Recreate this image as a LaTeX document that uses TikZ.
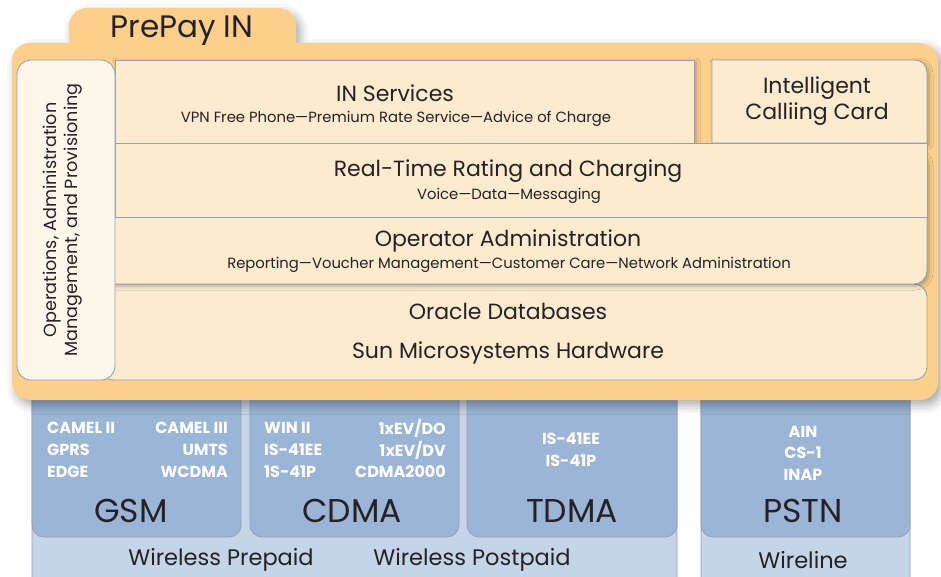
\documentclass[tikz,border=0pt]{standalone}
\usepackage{fontspec}
\setmainfont{Poppins}
\usetikzlibrary{shadows.blur}
\definecolor{ink}{RGB}{38,34,35}
\definecolor{frameorange}{RGB}{252,208,138}
\definecolor{layerfill}{RGB}{253,235,207}
\definecolor{oampfill}{RGB}{253,246,235}
\definecolor{edgegray}{RGB}{150,160,172}
\definecolor{netblue}{RGB}{155,181,214}
\definecolor{baseblue}{RGB}{196,212,233}
\tikzset{
  layer/.style={draw=edgegray, line width=0.9pt, fill=layerfill},
  softshadow/.style={blur shadow={shadow xshift=2pt, shadow yshift=-2pt, shadow blur radius=4pt, shadow opacity=30}},
  netbox/.style={draw=edgegray, line width=0.8pt, fill=netblue, rounded corners=12},
  basebox/.style={draw=edgegray, line width=0.8pt, fill=baseblue, rounded corners=12},
  tabtitle/.style={text=ink, font=\fontsize{31}{34}\selectfont},
  title/.style={text=ink, font=\fontsize{22}{26}\selectfont, align=center},
  detail/.style={text=ink, font=\fontsize{14.8}{17}\selectfont},
  sidetext/.style={text=ink, font=\fontsize{17.6}{21}\selectfont, align=center, rotate=90},
  proto/.style={text=white, font=\bfseries\fontsize{16}{18}\selectfont, inner sep=0pt},
  netname/.style={text=ink, font=\fontsize{33}{36}\selectfont},
  market/.style={text=ink, font=\fontsize{22.5}{25}\selectfont},
}

\begin{document}
\begin{tikzpicture}[x=1pt, y=-1pt]
  \useasboundingbox (0,0) rectangle (941,576);

  % access networks underneath
  \path[basebox] (32,380) rectangle (677,590);
  \path[basebox] (701,380) rectangle (910,590);
  \path[netbox] (32,380) rectangle (241,537);
  \path[netbox] (250,380) rectangle (459,537);
  \path[netbox] (467,380) rectangle (677,537);
  \path[netbox] (701,380) rectangle (910,537);

  % frame with tab
  \path[fill=frameorange, blur shadow={shadow xshift=4pt, shadow yshift=-5pt, shadow blur radius=9pt, shadow opacity=35}]
    (12,61) arc[start angle=180, end angle=270, radius=18] -- (69,43)
    -- (69,26) arc[start angle=180, end angle=270, radius=18] -- (278,8)
    arc[start angle=270, end angle=360, radius=18] -- (296,43)
    -- (920,43) arc[start angle=270, end angle=360, radius=18] -- (938,382)
    arc[start angle=0, end angle=90, radius=18] -- (30,400)
    arc[start angle=90, end angle=180, radius=18] -- cycle;

  % platform layers
  \path[layer, rounded corners=13] (100,284) rectangle (927,380);
  \path[layer, rounded corners=13, softshadow] (100,150) rectangle (927,284);
  \path[layer, softshadow] (115,60) rectangle (694,143);
  \path[layer, softshadow] (712,143) -- (712,60) -- (915,60)
    arc[start angle=270, end angle=360, radius=12] -- (927,143) -- cycle;
  \path[layer] (115,143) rectangle (927,217);
  \path[layer, fill=oampfill, rounded corners=14] (17,60) rectangle (115,380);

  % labels
  \node[tabtitle] (prepay) at (182,31) {PrePay IN};
  \node[title] (insvc) at (395,93) {IN Services};
  \node[detail] (insvcsub) at (396,119) {VPN Free Phone—Premium Rate Service—Advice of Charge};
  \node[title] (card) at (817,101) {Intelligent\\Calliing Card};
  \node[title] (rating) at (508,171) {Real-Time Rating and Charging};
  \node[detail] (ratingsub) at (509,196) {Voice—Data—Messaging};
  \node[title] (opadmin) at (508,241) {Operator Administration};
  \node[detail] (opadminsub) at (509,265) {Reporting—Voucher Management—Customer Care—Network Administration};
  \node[title] (oracle) at (508,311) {Oracle Databases};
  \node[title] (sun) at (508,353) {Sun Microsystems Hardware};
  \node[sidetext] (oamp) at (63,220) {Operations, Administration\\Management, and Provisioning};

  % protocols per network
  \node[proto, anchor=west] (gsmA) at (47,428) {CAMEL II};
  \node[proto, anchor=west] (gsmB) at (47,450) {GPRS};
  \node[proto, anchor=west] (gsmC) at (47,472) {EDGE};
  \node[proto, anchor=east] (gsmD) at (228,428) {CAMEL III};
  \node[proto, anchor=east] (gsmE) at (228,450) {UMTS};
  \node[proto, anchor=east] (gsmF) at (228,472) {WCDMA};
  \node[proto, anchor=west] (cdmaA) at (264,428) {WIN II};
  \node[proto, anchor=west] (cdmaB) at (264,450) {IS-41EE};
  \node[proto, anchor=west] (cdmaC) at (264,472) {1S-41P};
  \node[proto, anchor=east] (cdmaD) at (446,428) {1xEV/DO};
  \node[proto, anchor=east] (cdmaE) at (446,450) {1xEV/DV};
  \node[proto, anchor=east] (cdmaF) at (446,472) {CDMA2000};
  \node[proto] (tdmaA) at (571,439) {IS-41EE};
  \node[proto] (tdmaB) at (571,461) {IS-41P};
  \node[proto] (pstnA) at (803,432) {AIN};
  \node[proto] (pstnB) at (803,453) {CS-1};
  \node[proto] (pstnC) at (803,475) {INAP};

  \node[netname] (gsm) at (131,511) {GSM};
  \node[netname] (cdma) at (352,511) {CDMA};
  \node[netname] (tdma) at (572,511) {TDMA};
  \node[netname] (pstn) at (803,511) {PSTN};

  \node[market] (prepaid) at (221,560) {Wireless Prepaid};
  \node[market] (postpaid) at (472,560) {Wireless Postpaid};
  \node[market] (wireline) at (803,560) {Wireline};
\end{tikzpicture}
\end{document}
